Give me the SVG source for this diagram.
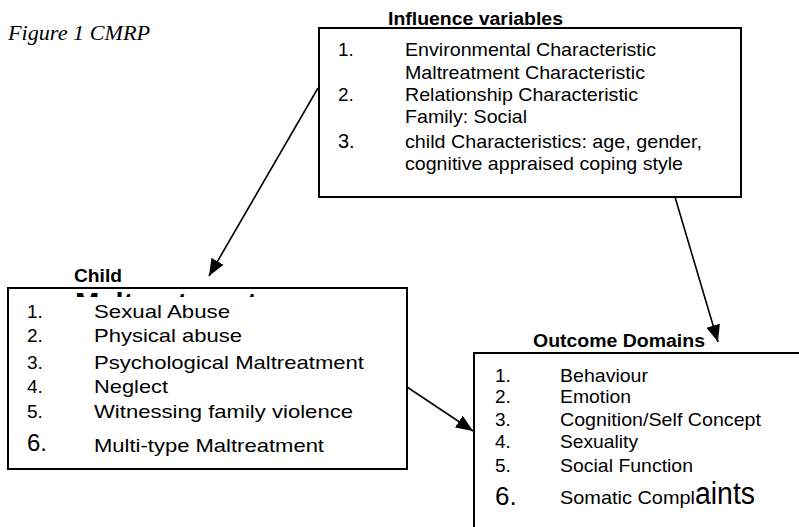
<svg xmlns="http://www.w3.org/2000/svg" width="799" height="527" viewBox="0 0 799 527">
<defs>
<style>
.box{fill:#fff;stroke:#000;stroke-width:2}
.t{font-family:"Liberation Sans",Arial,sans-serif;font-size:19px;fill:#000}
.h{font-family:"Liberation Sans",Arial,sans-serif;font-size:18px;font-weight:bold;fill:#000}
.c{stroke:#000;stroke-width:1.6;fill:none;marker-end:url(#ah)}
</style>
<marker id="ah" markerUnits="userSpaceOnUse" markerWidth="18" markerHeight="15" refX="17" refY="7.5" orient="auto">
<path d="M0,0.5 L17,7.5 L0,14.5 z" fill="#000"/>
</marker>
<clipPath id="cl"><rect x="60" y="289" width="220" height="8"/></clipPath>
</defs>
<rect width="799" height="527" fill="#fff"/>
<text x="8" y="40" font-family="Liberation Serif,Times New Roman,serif" font-style="italic" font-size="21" textLength="142" lengthAdjust="spacingAndGlyphs">Figure 1 CMRP</text>

<g id="influence">
<text class="h" x="388" y="25" textLength="175" lengthAdjust="spacingAndGlyphs">Influence variables</text>
<rect class="box" x="319" y="28" width="422" height="169"/>
<text class="t" x="338" y="56">1.</text>
<text class="t" x="405" y="56" textLength="251" lengthAdjust="spacingAndGlyphs">Environmental Characteristic</text>
<text class="t" x="405" y="79" textLength="240" lengthAdjust="spacingAndGlyphs">Maltreatment Characteristic</text>
<text class="t" x="338" y="101">2.</text>
<text class="t" x="405" y="101" textLength="233" lengthAdjust="spacingAndGlyphs">Relationship Characteristic</text>
<text class="t" x="405" y="123" textLength="122" lengthAdjust="spacingAndGlyphs">Family: Social</text>
<text class="t" x="338" y="148" style="font-size:20px">3.</text>
<text class="t" x="405" y="148" textLength="297" lengthAdjust="spacingAndGlyphs">child Characteristics: age, gender,</text>
<text class="t" x="405" y="170" textLength="278" lengthAdjust="spacingAndGlyphs">cognitive appraised coping style</text>
</g>

<g id="child">
<text class="h" x="74" y="282" textLength="48" lengthAdjust="spacingAndGlyphs">Child</text>
<rect class="box" x="8" y="288" width="399" height="181"/>
<text class="h" x="75" y="311" style="font-size:25px" textLength="182" lengthAdjust="spacingAndGlyphs" clip-path="url(#cl)">Maltreatment</text>
<text class="t" x="27" y="318">1.</text>
<text class="t" x="94" y="318" textLength="136" lengthAdjust="spacingAndGlyphs">Sexual Abuse</text>
<text class="t" x="27" y="342">2.</text>
<text class="t" x="94" y="342" textLength="148" lengthAdjust="spacingAndGlyphs">Physical abuse</text>
<text class="t" x="27" y="369">3.</text>
<text class="t" x="94" y="369" textLength="270" lengthAdjust="spacingAndGlyphs">Psychological Maltreatment</text>
<text class="t" x="27" y="393">4.</text>
<text class="t" x="94" y="393" textLength="74" lengthAdjust="spacingAndGlyphs">Neglect</text>
<text class="t" x="27" y="418">5.</text>
<text class="t" x="94" y="418" textLength="259" lengthAdjust="spacingAndGlyphs">Witnessing family violence</text>
<text class="t" x="27" y="451" style="font-size:24px">6.</text>
<text class="t" x="94" y="452" textLength="230" lengthAdjust="spacingAndGlyphs">Multi-type Maltreatment</text>
</g>

<g id="outcome">
<text class="h" x="533" y="347" textLength="172" lengthAdjust="spacingAndGlyphs">Outcome Domains</text>
<rect class="box" x="474" y="353" width="340" height="190"/>
<text class="t" x="495" y="382">1.</text>
<text class="t" x="560" y="382" textLength="88" lengthAdjust="spacingAndGlyphs">Behaviour</text>
<text class="t" x="495" y="403">2.</text>
<text class="t" x="560" y="403" textLength="71" lengthAdjust="spacingAndGlyphs">Emotion</text>
<text class="t" x="495" y="426">3.</text>
<text class="t" x="560" y="426" textLength="201" lengthAdjust="spacingAndGlyphs">Cognition/Self Concept</text>
<text class="t" x="495" y="448">4.</text>
<text class="t" x="560" y="448" textLength="78" lengthAdjust="spacingAndGlyphs">Sexuality</text>
<text class="t" x="495" y="472">5.</text>
<text class="t" x="560" y="472" textLength="133" lengthAdjust="spacingAndGlyphs">Social Function</text>
<text class="t" x="495" y="505" style="font-size:26px">6.</text>
<text class="t" x="560" y="504"><tspan textLength="135" lengthAdjust="spacingAndGlyphs">Somatic Compl</tspan><tspan style="font-size:31px" textLength="60" lengthAdjust="spacingAndGlyphs">aints</tspan></text>
</g>

<g id="connectors">
<line class="c" x1="318" y1="88" x2="209" y2="276"/>
<line class="c" x1="675" y1="197" x2="718" y2="342"/>
<line class="c" x1="407" y1="387" x2="473" y2="431"/>
</g>
</svg>
